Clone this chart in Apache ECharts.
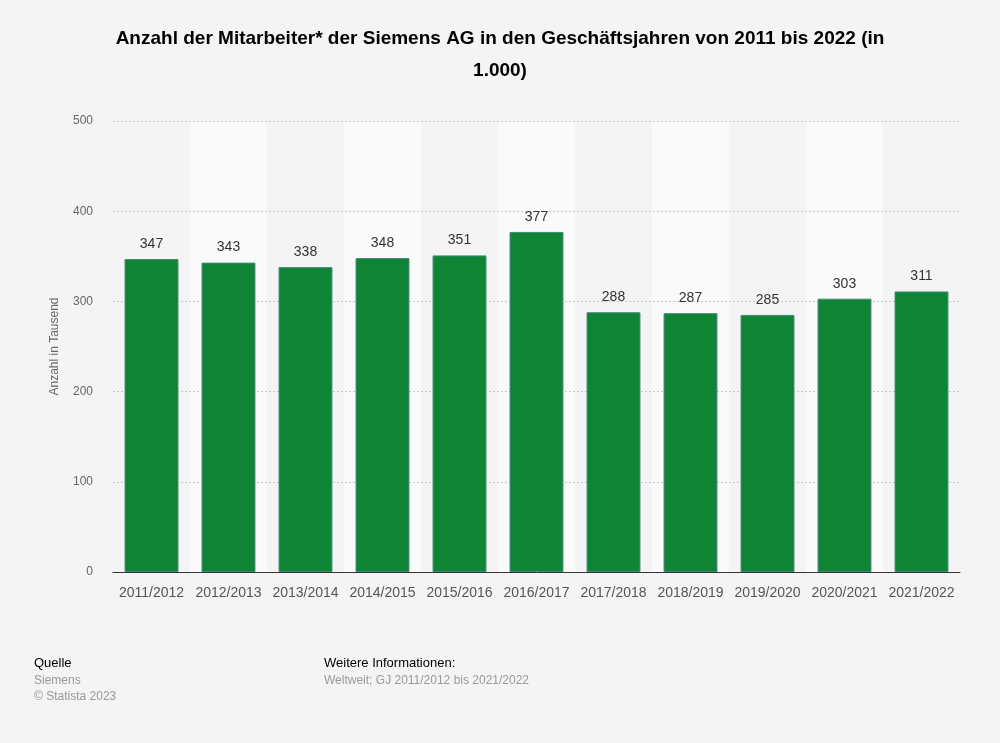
<!DOCTYPE html>
<html>
<head>
<meta charset="utf-8">
<script src="https://cdn.jsdelivr.net/npm/echarts@6/dist/echarts.min.js"></script>
<style>
    html, body { margin: 0; padding: 0; background: #f4f4f4; }
    #chart { width: 1000px; height: 743px; }
</style>
</head>
<body>
<div id="chart"></div>
<script>
    const categories = ['2011/2012', '2012/2013', '2013/2014', '2014/2015', '2015/2016', '2016/2017',
        '2017/2018', '2018/2019', '2019/2020', '2020/2021', '2021/2022'];
    const mitarbeiter = [347, 343, 338, 348, 351, 377, 288, 287, 285, 303, 311];
    const yTicks = [0, 100, 200, 300, 400, 500];

    const font = '"Liberation Sans", Arial, sans-serif';
    const chart = echarts.init(document.getElementById('chart'));

    let option = {
        backgroundColor: '#f4f4f4',
        animation: false,
        grid: {
            left: 113,
            right: 40,
            top: 121,
            bottom: 171
        },
        xAxis: {
            type: 'category',
            data: categories,
            z: 0,
            axisLine: { show: true, lineStyle: { color: '#333', width: 1 } },
            axisTick: { show: false },
            axisLabel: {
                interval: 0,
                fontFamily: font,
                fontSize: 14,
                color: '#555',
                margin: 14
            },
            splitArea: {
                show: true,
                interval: 0,
                areaStyle: { color: ['rgba(0,0,0,0)', '#fafafa'] }
            }
        },
        yAxis: {
            type: 'value',
            z: 1,
            min: yTicks[0],
            max: yTicks[yTicks.length - 1],
            interval: 100,
            name: 'Anzahl in Tausend',
            nameLocation: 'middle',
            nameGap: 52,
            nameTextStyle: { fontFamily: font, fontSize: 12, color: '#666' },
            axisLine: { show: false },
            axisTick: { show: false },
            axisLabel: {
                fontFamily: font,
                fontSize: 12,
                color: '#666',
                margin: 20
            },
            splitLine: {
                showMinLine: false,
                lineStyle: { color: '#c8c8c8', type: [2, 2], width: 1 }
            }
        },
        series: [
            {
                type: 'bar',
                data: mitarbeiter,
                z: 3,
                barCategoryGap: '30%',
                itemStyle: {
                    color: '#0f8434',
                    borderColor: '#3f8a7a',
                    borderWidth: 1
                },
                label: {
                    show: true,
                    position: 'top',
                    distance: 8,
                    fontFamily: font,
                    fontSize: 14,
                    color: '#333'
                }
            }
        ],
        graphic: [
            {
                type: 'text', x: 500, y: 23,
                style: {
                    text: 'Anzahl der Mitarbeiter* der Siemens AG in den Geschäftsjahren von 2011 bis 2022 (in\n1.000)',
                    font: 'bold 19px ' + font,
                    fill: '#000',
                    align: 'center',
                    lineHeight: 32
                }
            },
            { type: 'text', left: 34, top: 657, style: { text: 'Quelle', font: '13px ' + font, fill: '#000' } },
            { type: 'text', left: 34, top: 675, style: { text: 'Siemens', font: '12px ' + font, fill: '#999' } },
            { type: 'text', left: 34, top: 691, style: { text: '© Statista 2023', font: '12px ' + font, fill: '#999' } },
            { type: 'text', left: 324, top: 657, style: { text: 'Weitere Informationen:', font: '13px ' + font, fill: '#000' } },
            { type: 'text', left: 324, top: 675, style: { text: 'Weltweit; GJ 2011/2012 bis 2021/2022', font: '12px ' + font, fill: '#999' } }
        ]
    };

    chart.setOption(option);
    window.addEventListener('resize', chart.resize);
</script>
</body>
</html>
